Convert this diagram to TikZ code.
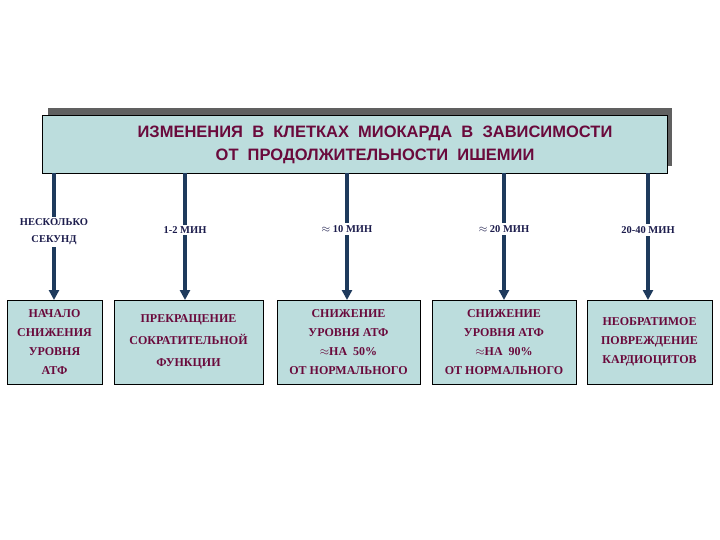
\documentclass[tikz,border=0pt]{standalone}
\usepackage{fontspec}
\setmainfont{Liberation Serif}
\newfontfamily\titlefont{Liberation Sans}
\usetikzlibrary{arrows.meta}
\definecolor{boxfill}{HTML}{BCDDDD}
\definecolor{txt}{HTML}{6A0A3C}
\definecolor{arr}{HTML}{1E3A5C}
\definecolor{lab}{HTML}{1C1C4C}
\tikzset{
 res/.style={draw=black, line width=1pt, fill=boxfill, text=txt, font=\bfseries\fontsize{12}{19}\selectfont, align=center, inner sep=0pt},
 lbl/.style={fill=white, text=lab, font=\bfseries\fontsize{10.5}{17}\selectfont, align=center, inner sep=2pt},
 conn/.style={draw=arr, line width=3.5pt, -{Triangle[length=10pt,width=10pt]}},
}
\begin{document}
\begin{tikzpicture}[x=1pt,y=-1pt]
\useasboundingbox (0,0) rectangle (720,540);
\fill[gray!75!black] (48,108) rectangle (672,166);
\node[res, minimum width=625pt, minimum height=58pt, anchor=north west, text=txt,
 font=\titlefont\bfseries\fontsize{16.5}{23}\selectfont] (title) at (42,115)
 {\hspace*{40pt}ИЗМЕНЕНИЯ\ \ В\ \ КЛЕТКАХ\ \ МИОКАРДА\ \ В\ \ ЗАВИСИМОСТИ\\ \hspace*{40pt}ОТ\ \ ПРОДОЛЖИТЕЛЬНОСТИ\ \ ИШЕМИИ};
\node[res, minimum width=95pt, minimum height=84pt] (b1) at (54.5,342) {НАЧАЛО\\СНИЖЕНИЯ\\УРОВНЯ\\АТФ};
\node[res, minimum width=149pt, minimum height=84pt] (b2) at (188.5,342) {ПРЕКРАЩЕНИЕ\\[3pt]СОКРАТИТЕЛЬНОЙ\\[3pt]ФУНКЦИИ};
\node[res, minimum width=143pt, minimum height=84pt] (b3) at (348.5,342) {СНИЖЕНИЕ\\УРОВНЯ АТФ\\$\approx$НА\ \ 50\%\\ОТ НОРМАЛЬНОГО};
\node[res, minimum width=144pt, minimum height=84pt] (b4) at (504,342) {СНИЖЕНИЕ\\УРОВНЯ АТФ\\$\approx$НА\ \ 90\%\\ОТ НОРМАЛЬНОГО};
\node[res, minimum width=125pt, minimum height=84pt] (b5) at (649.5,342) {НЕОБРАТИМОЕ\\ПОВРЕЖДЕНИЕ\\КАРДИОЦИТОВ};
\coordinate (t1) at (54,173); \coordinate (t2) at (185,173); \coordinate (t3) at (347,173);
\coordinate (t4) at (504,173); \coordinate (t5) at (648,173);
\draw[conn] (t1) -- (54,300);
\draw[conn] (t2) -- (185,300);
\draw[conn] (t3) -- (347,300);
\draw[conn] (t4) -- (504,300);
\draw[conn] (t5) -- (648,300);
\node[lbl] (l1) at (54,232) {НЕСКОЛЬКО\\СЕКУНД};
\node[lbl] (l2) at (185,230) {1-2 МИН};
\node[lbl] (l3) at (347,229) {$\approx$ 10 МИН};
\node[lbl] (l4) at (504,229) {$\approx$ 20 МИН};
\node[lbl] (l5) at (648,230) {20-40 МИН};
\end{tikzpicture}
\end{document}
